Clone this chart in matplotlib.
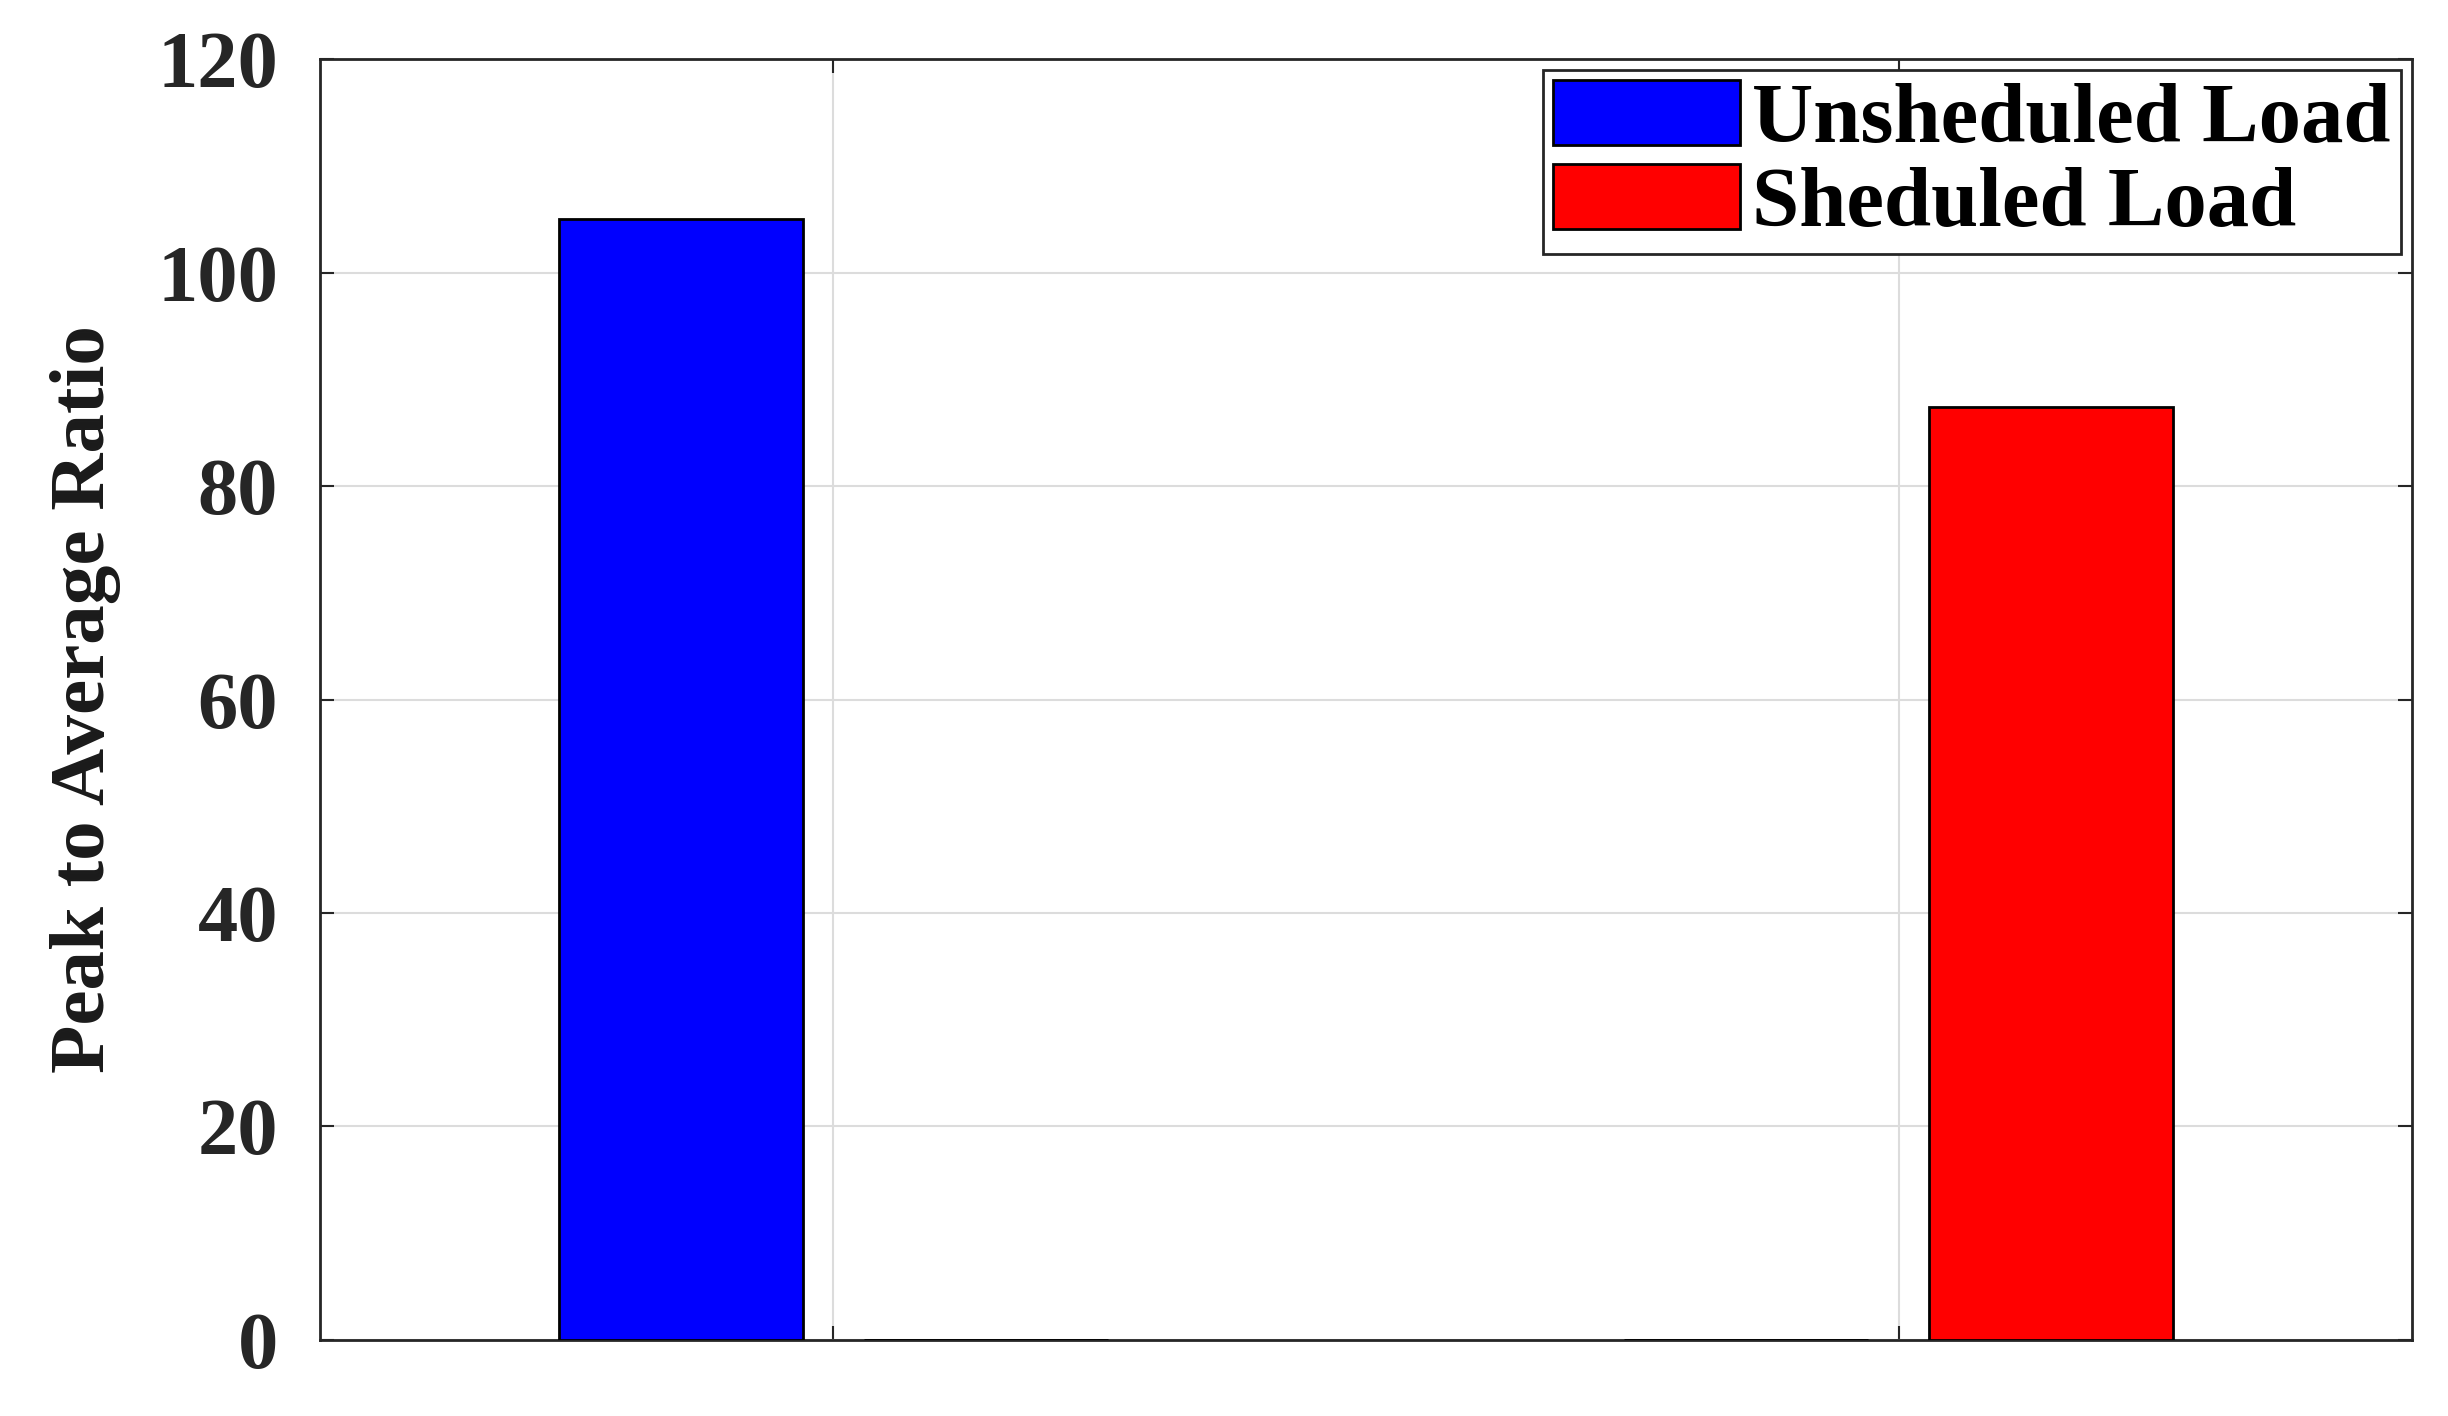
import numpy as np
import matplotlib
matplotlib.use("Agg")
import matplotlib.pyplot as plt

# data
groups = [1, 2]
unscheduled = [105.0, 0.0]
scheduled = [0.0, 87.4]
series_names = ["Unsheduled Load", "Sheduled Load"]
yticks = [0, 20, 40, 60, 80, 100, 120]

plt.rcParams['font.family'] = ['Liberation Serif', 'DejaVu Serif']
plt.rcParams['font.weight'] = 'bold'

fig = plt.figure(figsize=(24.48, 14.16), dpi=100)
ax = fig.add_axes([0.1307, 0.0537, 0.8546, 0.9046])

# MATLAB style grouped bars
x = np.array(groups, dtype=float)
width = 0.229
off = 0.143
ax.bar(x - off, unscheduled, width, color='#0000ff', edgecolor='black',
       linewidth=2, label=series_names[0], zorder=3)
ax.bar(x + off, scheduled, width, color='#ff0000', edgecolor='black',
       linewidth=2, label=series_names[1], zorder=3)

ax.set_xlim(0.518, 2.482)
ax.set_ylim(0, 120)
ax.set_xticks(groups)
ax.set_xticklabels([])
ax.set_yticks(yticks)
ax.set_yticklabels([str(v) for v in yticks], fontsize=58, fontweight='bold',
                   color='#262626')

ax.grid(True, color='#dcdcdc', linewidth=1.5, zorder=0)
ax.set_axisbelow(True)
ax.tick_params(direction='in', length=10, width=1.5, top=True, right=True,
               colors='#262626', pad=30)
for s in ax.spines.values():
    s.set_linewidth(2)
    s.set_color('#262626')

ax.set_ylabel('Peak to Average Ratio', fontsize=57, fontweight='bold',
              color='#1a1a1a', labelpad=26)

leg = ax.legend(loc='upper right', bbox_to_anchor=(1, 1), borderaxespad=0.13,
                prop={'weight': 'bold', 'size': 61},
                handlelength=2.2, handleheight=0.8, handletextpad=0.15,
                labelspacing=0.05, borderpad=0.12, fancybox=False,
                framealpha=1, edgecolor='#262626')
leg.get_frame().set_linewidth(2)

fig.savefig('out.png', dpi=100)
